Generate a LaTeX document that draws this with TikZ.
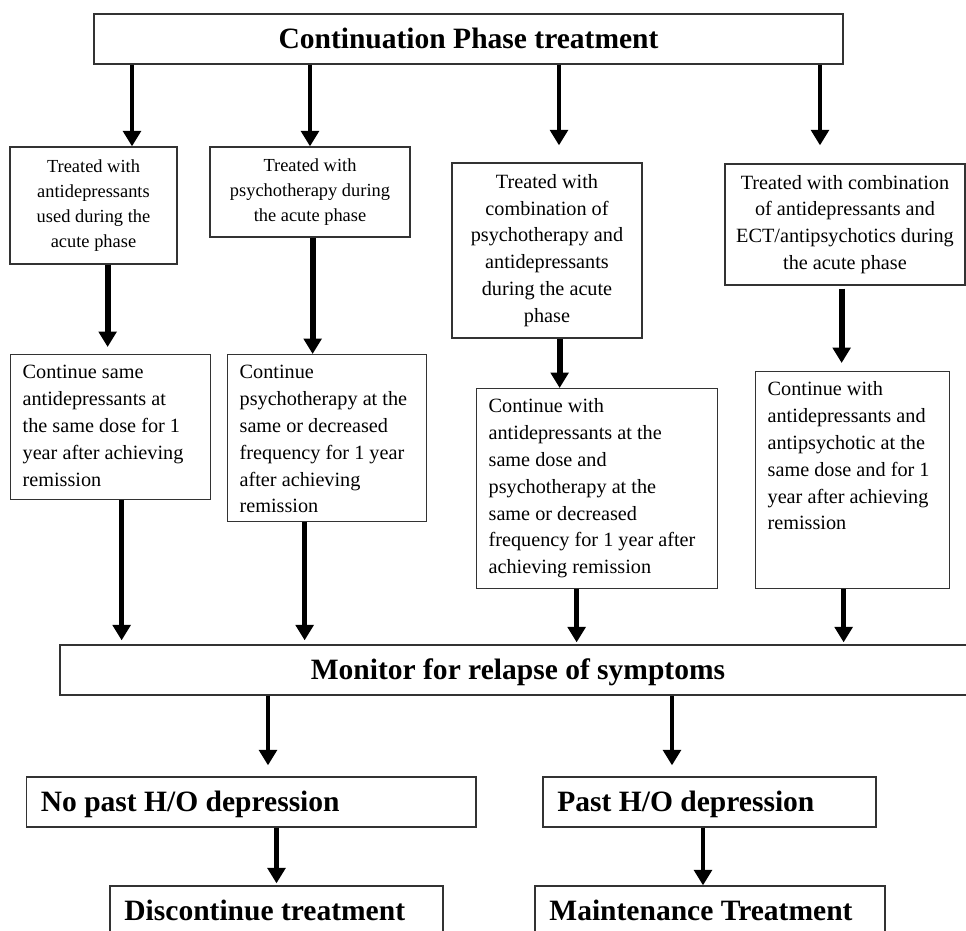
\documentclass[tikz,border=0pt]{standalone}
\usepackage{fontspec}
\setmainfont{Liberation Serif}
\usetikzlibrary{arrows.meta}

\begin{document}
\begin{tikzpicture}[
        box/.style={draw=black!80, line width=0.9pt, fill=white},
        headbox/.style={box, minimum height=1.25cm, text height=0.48cm, text depth=0cm, font=\fontsize{21}{25}\selectfont\bfseries},
        leftbox/.style={headbox, align=flush left, inner xsep=0.36cm},
        treatbox/.style={box, align=center, inner sep=0pt},
        contbox/.style={box, anchor=north west, align=flush left, inner xsep=0.3cm, inner ysep=0.25cm, text height=0.35cm, font=\fontsize{14.4}{19.1}\selectfont},
        arr/.style={line width=3.4pt, -{Triangle[width=12.5pt,length=11pt]}},
        arrw/.style={arr, line width=4.3pt}
    ]
        \useasboundingbox (0,0) rectangle (24.15,-23.275);
        \clip (0,0) rectangle (24.15,-23.275);

        % Top box
        \node[headbox, minimum width=18.725cm] (top) at (11.7125,-0.975) {Continuation Phase treatment};

        % Acute phase groups
        \node[treatbox, minimum width=4.175cm, minimum height=2.925cm, font=\fontsize{13.1}{17.6}\selectfont] (a1) at (2.3375,-5.1375) {Treated with\\antidepressants\\used during the\\acute phase};
        \node[treatbox, minimum width=5cm, minimum height=2.25cm, font=\fontsize{13.1}{17.6}\selectfont] (a2) at (7.75,-4.8) {Treated with\\psychotherapy during\\the acute phase};
        \node[treatbox, minimum width=4.75cm, minimum height=4.375cm, font=\fontsize{14.4}{19.1}\selectfont] (a3) at (13.675,-6.2625) {Treated with\\combination of\\psychotherapy and\\antidepressants\\during the acute\\phase};
        \node[treatbox, minimum width=6cm, minimum height=3.025cm, font=\fontsize{14.4}{19.1}\selectfont] (a4) at (21.125,-5.6125) {Treated with combination\\of antidepressants and\\ECT/antipsychotics during\\the acute phase};

        % Continuation boxes
        \node[contbox, text width=4.4cm, text depth=2.775cm] (b1) at (0.25,-8.85) {Continue same\\antidepressants at\\the same dose for 1\\year after achieving\\remission};
        \node[contbox, text width=4.375cm, text depth=3.325cm] (b2) at (5.675,-8.85) {Continue\\psychotherapy at the\\same or decreased\\frequency for 1 year\\after achieving\\remission};
        \node[contbox, text width=5.425cm, text depth=4.15cm] (b3) at (11.9,-9.7) {Continue with\\antidepressants at the\\same dose and\\psychotherapy at the\\same or decreased\\frequency for 1 year after\\achieving remission};
        \node[contbox, text width=4.25cm, text depth=4.575cm] (b4) at (18.875,-9.275) {Continue with\\antidepressants and\\antipsychotic at the\\same dose and for 1\\year after achieving\\remission};

        % Monitor and outcome boxes
        \node[headbox, minimum width=22.9cm] (mon) at (12.95,-16.75) {Monitor for relapse of symptoms};
        \node[leftbox, text width=10.52cm] (nopast) at (6.28,-20.05) {No past H/O depression};
        \node[leftbox, text width=7.605cm] (past) at (17.7375,-20.05) {Past H/O depression};
        \node[leftbox, text width=7.605cm] (disc) at (6.9125,-22.775) {Discontinue treatment};
        \node[leftbox, text width=8.03cm] (maint) at (17.75,-22.775) {Maintenance Treatment};

        % Arrows from top box
        \coordinate (a1in) at ([xshift=0.9625cm]a1.north);
        \coordinate (a3in) at ([shift={(0.3cm,0.425cm)}]a3.north);
        \coordinate (a4in) at ([shift={(-0.625cm,0.45cm)}]a4.north);
        \draw[arr] (top.south -| a1in) -- (a1in);
        \draw[arr] (top.south -| a2.north) -- (a2.north);
        \draw[arr] (top.south -| a3in) -- (a3in);
        \draw[arr] (top.south -| a4in) -- (a4in);

        % Acute phase -> continuation
        \coordinate (b1in) at ([shift={(-0.075cm,0.175cm)}]b1.north);
        \coordinate (b2in) at ([xshift=-0.3625cm]b2.north);
        \coordinate (b3in) at ([xshift=-0.9375cm]b3.north);
        \coordinate (b4in) at ([shift={(-0.275cm,0.2cm)}]b4.north);
        \draw[arrw] (a1.south -| b1in) -- (b1in);
        \draw[arrw] (a2.south -| b2in) -- (b2in);
        \draw[arrw] (a3.south -| b3in) -- (b3in);
        \draw[arrw, shorten <=0.075cm] (a4.south -| b4in) -- (b4in);

        % Continuation -> monitor
        \coordinate (b1out) at ([xshift=0.275cm]b1.south);
        \coordinate (b2out) at ([xshift=-0.5625cm]b2.south);
        \coordinate (b3out) at ([xshift=-0.5125cm]b3.south);
        \coordinate (b4out) at ([xshift=-0.225cm]b4.south);
        \draw[arr, shorten >=0.1cm] (b1out) -- (b1out |- mon.north);
        \draw[arr, shorten >=0.1cm] (b2out) -- (b2out |- mon.north);
        \draw[arr, shorten >=0.05cm] (b3out) -- (b3out |- mon.north);
        \draw[arr, shorten >=0.05cm] (b4out) -- (b4out |- mon.north);

        % Monitor -> history
        \coordinate (nopastin) at ([shift={(0.42cm,0.275cm)}]nopast.north);
        \coordinate (pastin) at ([shift={(-0.9375cm,0.275cm)}]past.north);
        \draw[arr] (mon.south -| nopastin) -- (nopastin);
        \draw[arr] (mon.south -| pastin) -- (pastin);

        % History -> outcome
        \coordinate (maintin) at ([xshift=-0.175cm]maint.north);
        \draw[arr, shorten >=0.05cm] (nopast.south -| disc.north) -- (disc.north);
        \draw[arr] (past.south -| maintin) -- (maintin);
    \end{tikzpicture}
\end{document}
